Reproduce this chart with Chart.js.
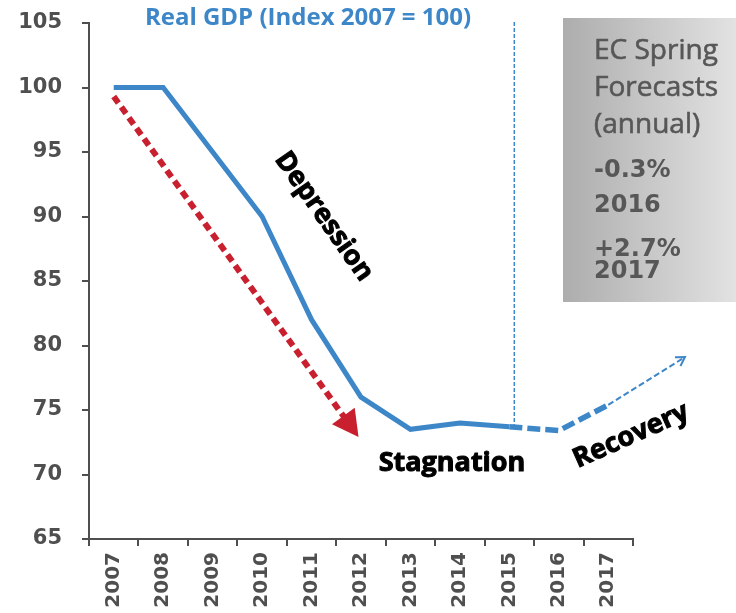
<!DOCTYPE html>
<html>
<head>
<meta charset="utf-8">
<script src="https://cdn.jsdelivr.net/npm/chart.js@4/dist/chart.umd.min.js"></script>
<style>
  html, body { margin: 0; padding: 0; background: #fff; }
  #wrap { width: 736px; height: 613px; }
</style>
</head>
<body>
<div id="wrap"><canvas id="gdpChart" width="736" height="613"></canvas></div>
<script>
// real GDP index, 2007 = 100
const years = ['2007', '2008', '2009', '2010', '2011', '2012', '2013', '2014', '2015', '2016', '2017'];
const gdpActual = [100, 100, 95, 90, 82, 76, 73.5, 74, 73.7, null, null];
const gdpForecast = [null, null, null, null, null, null, null, null, 73.7, 73.4, 75.4];
const yMin = 65, yMax = 105, yStep = 5;

// arrows as [category index, index value]
const depressionArrow = { from: [0, 99.3], to: [4.95, 72.9] };
const recoveryArrow = { from: [10, 75.4], to: [11.55, 79.1] };
const forecastDivider = 8.1;

const boxTitle = ['EC Spring', 'Forecasts', '(annual)'];
const boxRates = [['-0.3%', '2016'], ['+2.7%', '2017']];

const BLUE = '#3d87c9';
const GREY = '#4f4f4f';

const overlay = {
    id: 'overlay',
    afterDraw(chart) {
        const { ctx, scales: { x, y } } = chart;
        const pt = (p) => [x.getPixelForValue(p[0]), y.getPixelForValue(p[1])];
        ctx.save();

        // title
        ctx.fillStyle = BLUE;
        ctx.font = 'bold 24px "Open Sans"';
        ctx.textAlign = 'center';
        ctx.textBaseline = 'middle';
        ctx.fillText('Real GDP (Index 2007 = 100)', 308, 18);

        // forecast divider
        const dx = x.getPixelForValue(forecastDivider);
        ctx.strokeStyle = BLUE;
        ctx.lineWidth = 1.5;
        ctx.setLineDash([4, 2]);
        ctx.beginPath();
        ctx.moveTo(dx, y.getPixelForValue(yMax) - 1);
        ctx.lineTo(dx, y.getPixelForValue(gdpActual[8]));
        ctx.stroke();

        // recovery trend arrow
        const [r0x, r0y] = pt(recoveryArrow.from);
        const [r1x, r1y] = pt(recoveryArrow.to);
        ctx.lineWidth = 2;
        ctx.setLineDash([6, 3]);
        ctx.beginPath();
        ctx.moveTo(r0x, r0y);
        ctx.lineTo(r1x, r1y);
        ctx.stroke();
        ctx.setLineDash([]);
        let a = Math.atan2(r1y - r0y, r1x - r0x);
        ctx.beginPath();
        ctx.moveTo(r1x - 10 * Math.cos(a - 0.55), r1y - 10 * Math.sin(a - 0.55));
        ctx.lineTo(r1x, r1y);
        ctx.lineTo(r1x - 10 * Math.cos(a + 0.55), r1y - 10 * Math.sin(a + 0.55));
        ctx.stroke();

        // depression arrow
        const [d0x, d0y] = pt(depressionArrow.from);
        const [d1x, d1y] = pt(depressionArrow.to);
        a = Math.atan2(d1y - d0y, d1x - d0x);
        const head = 26, half = 14;
        const bx = d1x - head * Math.cos(a), by = d1y - head * Math.sin(a);
        ctx.strokeStyle = '#c9202f';
        ctx.fillStyle = '#c9202f';
        ctx.lineWidth = 6;
        ctx.setLineDash([8, 5]);
        ctx.beginPath();
        ctx.moveTo(d0x, d0y);
        ctx.lineTo(bx + 2 * Math.cos(a), by + 2 * Math.sin(a));
        ctx.stroke();
        ctx.setLineDash([]);
        ctx.beginPath();
        ctx.moveTo(d1x, d1y);
        ctx.lineTo(bx + half * Math.sin(a), by - half * Math.cos(a));
        ctx.lineTo(bx - half * Math.sin(a), by + half * Math.cos(a));
        ctx.closePath();
        ctx.fill();

        // phase labels, a thin stroke makes them heavier
        ctx.fillStyle = '#000';
        ctx.strokeStyle = '#000';
        ctx.lineWidth = 1;
        ctx.font = 'bold 27px "Open Sans"';
        const label = (text, p, angle) => {
            const [lx, ly] = pt(p);
            ctx.save();
            ctx.translate(lx, ly);
            ctx.rotate(angle);
            ctx.fillText(text, 0, 0);
            ctx.strokeText(text, 0, 0);
            ctx.restore();
        };
        label('Depression', [4.25, 90.0], 55 * Math.PI / 180);
        label('Stagnation', [6.84, 70.9], 0);
        label('Recovery', [10.46, 73.0], -24 * Math.PI / 180);

        // forecast box
        const g = ctx.createLinearGradient(563, 0, 736, 0);
        g.addColorStop(0, '#adadad');
        g.addColorStop(1, '#e2e2e2');
        ctx.fillStyle = g;
        ctx.fillRect(563, 18, 173, 284);
        ctx.fillStyle = '#575757';
        ctx.strokeStyle = '#575757';
        ctx.lineWidth = 0.6;
        ctx.textAlign = 'left';
        ctx.textBaseline = 'alphabetic';
        ctx.font = '28px "Open Sans"';
        boxTitle.forEach((t, i) => {
            ctx.fillText(t, 594, 59 + i * 37);
            ctx.strokeText(t, 594, 59 + i * 37);
        });
        ctx.font = 'bold 24px "DejaVu Sans"';
        boxRates.forEach((r, i) => {
            ctx.fillText(r[0], 594, 177 + i * 79);
            ctx.fillText(r[1], 594, 212 + i * 66);
        });
        ctx.restore();
    }
};

const ctx = document.getElementById('gdpChart').getContext('2d');
const gdpChart = new Chart(ctx, {
    type: 'line',
    data: {
        labels: years,
        datasets: [{
            data: gdpActual,
            borderColor: BLUE,
            borderWidth: 5,
            pointRadius: 0,
            tension: 0,
            fill: false
        }, {
            data: gdpForecast,
            borderColor: BLUE,
            borderWidth: 5.5,
            borderDash: [13, 5],
            pointRadius: 0,
            tension: 0,
            fill: false
        }]
    },
    options: {
        responsive: false,
        animation: false,
        layout: { autoPadding: false, padding: { top: 0, right: 103, left: 0, bottom: 0 } },
        scales: {
            x: {
                offset: true,
                grid: { offset: true, drawOnChartArea: false, color: GREY, lineWidth: 2, tickLength: 7 },
                border: { color: GREY, width: 2 },
                ticks: {
                    color: GREY,
                    font: { family: 'DejaVu Sans', weight: 'bold', size: 20 },
                    maxRotation: 90,
                    minRotation: 90,
                    padding: 6
                },
                afterFit: function(scale) { scale.height = 74; }
            },
            y: {
                min: yMin,
                max: yMax,
                ticks: {
                    stepSize: yStep,
                    color: GREY,
                    font: { family: 'DejaVu Sans', weight: 'bold', size: 21 },
                    padding: 20
                },
                grid: { drawOnChartArea: false, color: GREY, lineWidth: 2, tickLength: 7 },
                border: { color: GREY, width: 2 },
                afterFit: function(scale) {
                    scale.width = 89;
                    scale.paddingTop = 23;
                }
            }
        },
        plugins: {
            legend: { display: false },
            tooltip: { enabled: false }
        }
    },
    plugins: [overlay]
});
</script>
</body>
</html>
